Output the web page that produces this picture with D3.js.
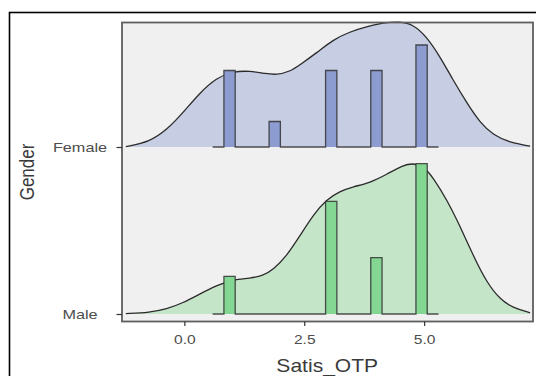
<!DOCTYPE html>
<html>
<head>
<meta charset="utf-8">
<script src="https://cdn.jsdelivr.net/npm/d3@7"></script>
<style>
  body { margin: 0; background: #fff; }
  text { font-family: "Liberation Sans", Arial, sans-serif; }
</style>
</head>
<body>
<div id="chart"></div>
<script>
const width = 536;
const height = 376;

// groups, top to bottom
const genders = ["Female", "Male"];

// histogram (binline) values
const binLo = [0.825, 1.767, 2.945, 3.887, 4.829];
const binWidth = 0.2355;
const binLineFrom = 0.59;
const binLineTo = 5.3;
const femaleCounts = [3, 1, 3, 3, 4];
const maleCounts = [2, 0, 6, 3, 8];

// density ridges (scaled density, max = 1)
const femaleKdeX = [-1.22, -0.72, -0.37, -0.03, 0.32, 0.67, 1.01, 1.36, 1.71, 1.92, 2.2, 2.41, 2.76, 3.1, 3.45, 3.8, 4.14, 4.5, 4.77, 5.05, 5.33, 5.6, 5.89, 6.17, 6.44, 6.79, 7.21];
const femaleKde = [0.002, 0.035, 0.113, 0.227, 0.36, 0.46, 0.502, 0.507, 0.487, 0.48, 0.502, 0.547, 0.627, 0.713, 0.767, 0.8, 0.827, 0.835, 0.815, 0.735, 0.602, 0.447, 0.293, 0.16, 0.08, 0.029, 0.006];
const maleKdeX = [-1.22, -0.72, -0.37, -0.03, 0.32, 0.67, 1.02, 1.37, 1.64, 1.85, 2.13, 2.41, 2.69, 2.97, 3.24, 3.52, 3.87, 4.22, 4.56, 4.77, 4.98, 5.19, 5.47, 5.75, 6.03, 6.31, 6.59, 6.86, 7.21];
const maleKde = [0.002, 0.011, 0.033, 0.073, 0.133, 0.19, 0.229, 0.237, 0.255, 0.295, 0.384, 0.52, 0.662, 0.762, 0.817, 0.847, 0.873, 0.929, 0.99, 1.003, 0.986, 0.907, 0.762, 0.584, 0.384, 0.207, 0.095, 0.04, 0.008];

const xTicks = [0, 2.5, 5];

const colors = {
  Female: { area: "#c7cde3", bar: "#8c9cd0" },
  Male: { area: "#c5e5c9", bar: "#84d693" }
};

const panel = { left: 122, right: 533, top: 22.5, bottom: 321.5 };

const x = d3
  .scaleLinear()
  .domain([-1.3, 7.27])
  .range([panel.left, panel.right]);

const y = d3
  .scalePoint()
  .domain(["Male", "Female"])
  .range([314, 147]);

// ridge height relative to band spacing
const h = d3
  .scaleLinear()
  .domain([0, 1])
  .range([0, 0.9 * (y("Male") - y("Female"))]);

const counts = { Female: femaleCounts, Male: maleCounts };
const kde = {
  Female: femaleKdeX.map((d, i) => ({ x: d, v: femaleKde[i] })),
  Male: maleKdeX.map((d, i) => ({ x: d, v: maleKde[i] }))
};

// histogram as density, scaled to largest bin across groups
const histDensity = {};
genders.forEach(g => {
  const n = d3.sum(counts[g]);
  histDensity[g] = counts[g].map(c => c / (n * binWidth));
});
const maxHist = d3.max(genders, g => d3.max(histDensity[g]));

const svg = d3
  .select("#chart")
  .append("svg")
  .attr("width", width)
  .attr("height", height);

// outer frame
svg
  .append("rect")
  .attr("x", 9.5)
  .attr("y", 12.5)
  .attr("width", width + 10)
  .attr("height", height + 10)
  .attr("fill", "#fff")
  .attr("stroke", "#000")
  .attr("stroke-width", 1.6);

svg
  .append("rect")
  .attr("x", panel.left)
  .attr("y", panel.top)
  .attr("width", panel.right - panel.left)
  .attr("height", panel.bottom - panel.top)
  .attr("fill", "#f0f0f0");

genders.forEach(g => {
  const base = y(g);

  const area = d3
    .area()
    .x(d => x(d.x))
    .y0(base)
    .y1(d => base - h(d.v))
    .curve(d3.curveBasis);

  svg
    .append("path")
    .datum(kde[g])
    .attr("fill", colors[g].area)
    .attr("d", area);

  svg
    .append("path")
    .datum(kde[g])
    .attr("fill", "none")
    .attr("stroke", "#2b2b2b")
    .attr("stroke-width", 1.3)
    .attr("d", area.lineY1());

  const bars = binLo
    .map((lo, i) => ({ lo, v: histDensity[g][i] / maxHist }))
    .filter(d => d.v > 0);

  svg
    .append("g")
    .selectAll("rect")
    .data(bars)
    .enter()
    .append("rect")
    .attr("x", d => x(d.lo))
    .attr("y", d => base - h(d.v))
    .attr("width", d => x(d.lo + binWidth) - x(d.lo))
    .attr("height", d => h(d.v))
    .attr("fill", colors[g].bar);

  const steps = [{ x: binLineFrom, v: 0 }];
  bars.forEach(d => {
    steps.push({ x: d.lo, v: 0 }, { x: d.lo, v: d.v });
    steps.push({ x: d.lo + binWidth, v: d.v }, { x: d.lo + binWidth, v: 0 });
  });
  steps.push({ x: binLineTo, v: 0 });

  svg
    .append("path")
    .datum(steps)
    .attr("fill", "none")
    .attr("stroke", "#333")
    .attr("stroke-opacity", 0.85)
    .attr("stroke-width", 1.3)
    .attr("d", d3.line().x(d => x(d.x)).y(d => base - h(d.v)));
});

// panel border
svg
  .append("rect")
  .attr("x", panel.left)
  .attr("y", panel.top)
  .attr("width", panel.right - panel.left)
  .attr("height", panel.bottom - panel.top)
  .attr("fill", "none")
  .attr("stroke", "#5e5e5e")
  .attr("stroke-width", 1.8);

const xAxis = d3
  .axisBottom(x)
  .tickValues(xTicks)
  .tickFormat(d3.format(".1f"))
  .tickSize(4.5)
  .tickPadding(0);

const gx = svg
  .append("g")
  .attr("transform", `translate(0,${panel.bottom})`)
  .call(xAxis);
gx.select(".domain").remove();
gx.selectAll(".tick line").attr("stroke", "#333").attr("stroke-width", 1.2);
gx.selectAll(".tick text")
  .attr("y", null)
  .attr("dy", null)
  .attr("transform", "translate(0,22.5) scale(1.3,1)")
  .attr("fill", "#4d4d4d")
  .style("font-size", "12px");

const yAxis = d3.axisLeft(y).tickSize(5.5).tickPadding(0);
const gy = svg
  .append("g")
  .attr("transform", `translate(${panel.left},0)`)
  .call(yAxis);
gy.select(".domain").remove();
gy.selectAll(".tick line").attr("stroke", "#333").attr("stroke-width", 1.2);
gy.selectAll(".tick text")
  .attr("x", null)
  .attr("dy", null)
  .attr("text-anchor", "middle")
  .attr("transform", "translate(-42,4.5) scale(1.3,1)")
  .attr("fill", "#4d4d4d")
  .style("font-size", "12.5px");

svg
  .append("text")
  .attr("text-anchor", "middle")
  .attr("transform", `translate(${(x(0) + x(5)) / 2 + 23},372) scale(1.17,1)`)
  .attr("fill", "#3a3a3a")
  .style("font-size", "18px")
  .text("Satis_OTP");

svg
  .append("text")
  .attr("text-anchor", "middle")
  .attr("transform", `translate(33.5,${(panel.top + panel.bottom) / 2}) rotate(-90) scale(1,1.2)`)
  .attr("fill", "#3a3a3a")
  .style("font-size", "17px")
  .text("Gender");
</script>
</body>
</html>
